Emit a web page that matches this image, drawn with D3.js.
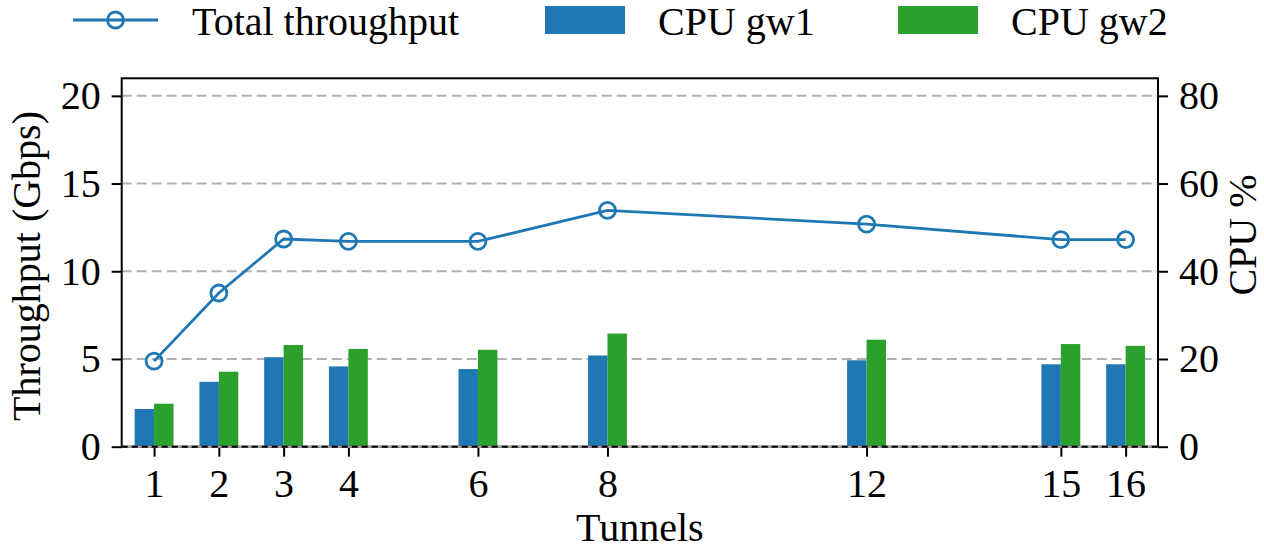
<!DOCTYPE html>
<html>
<head>
<meta charset="utf-8">
<script src="https://cdn.jsdelivr.net/npm/d3@7"></script>
<style>
    body { margin: 0; background: #fff; }
    svg { display: block; font-family: "Liberation Serif", "Times New Roman", serif; }
</style>
</head>
<body>
<div id="chart"></div>
<script>
const TUNNELS = [1, 2, 3, 4, 6, 8, 12, 15, 16];
const THROUGHPUT = [4.88, 8.76, 11.84, 11.7, 11.7, 13.47, 12.69, 11.8, 11.8];
const CPU_GW1 = [8.6, 14.8, 20.4, 18.3, 17.7, 20.8, 19.7, 18.8, 18.8];
const CPU_GW2 = [9.8, 17.1, 23.2, 22.3, 22.1, 25.8, 24.4, 23.4, 23.0];
const LEFT_TICKS = [0, 5, 10, 15, 20];
const RIGHT_TICKS = [0, 20, 40, 60, 80];

const BLUE = "#1f77b4";
const GREEN = "#2ca02c";
const FONT_SIZE = 40;

const width = 1264;
const height = 546;
const margin = { top: 78.3, right: 106, bottom: 99.3, left: 121.7 };
const plotWidth = width - margin.left - margin.right;
const plotHeight = height - margin.top - margin.bottom;

const svg = d3.select("#chart").append("svg")
    .attr("width", width)
    .attr("height", height);

const nullpoint = svg.append("g")
    .attr("transform", `translate(${margin.left}, ${margin.top})`);

const xScale = d3.scaleLinear()
    .domain([0.5, 16.5])
    .range([0, plotWidth]);

const yLeft = d3.scaleLinear()
    .domain([0, 21])
    .range([plotHeight, 0]);

const yRight = d3.scaleLinear()
    .domain([0, 84])
    .range([plotHeight, 0]);

const barWidth = xScale(0.3) - xScale(0);

// grid
nullpoint.selectAll(".grid")
    .data(LEFT_TICKS.filter(d => d > 0))
    .enter()
    .append("line")
    .attr("class", "grid")
    .attr("x1", 0)
    .attr("x2", plotWidth)
    .attr("y1", d => yLeft(d))
    .attr("y2", d => yLeft(d))
    .attr("stroke", "#b0b0b0")
    .attr("stroke-width", 2)
    .attr("stroke-dasharray", "10,5");

// bars
const rows = TUNNELS.map((t, i) => ({ t: t, gw1: CPU_GW1[i], gw2: CPU_GW2[i], tp: THROUGHPUT[i] }));

nullpoint.selectAll(".bar-gw1")
    .data(rows)
    .enter()
    .append("rect")
    .attr("class", "bar-gw1")
    .attr("x", d => xScale(d.t) - barWidth)
    .attr("y", d => yRight(d.gw1))
    .attr("width", barWidth)
    .attr("height", d => plotHeight - yRight(d.gw1))
    .attr("fill", BLUE);

nullpoint.selectAll(".bar-gw2")
    .data(rows)
    .enter()
    .append("rect")
    .attr("class", "bar-gw2")
    .attr("x", d => xScale(d.t))
    .attr("y", d => yRight(d.gw2))
    .attr("width", barWidth)
    .attr("height", d => plotHeight - yRight(d.gw2))
    .attr("fill", GREEN);

// throughput line
const line = d3.line()
    .x(d => xScale(d.t))
    .y(d => yLeft(d.tp));

nullpoint.append("path")
    .datum(rows)
    .attr("fill", "none")
    .attr("stroke", BLUE)
    .attr("stroke-width", 2.8)
    .attr("d", line);

nullpoint.selectAll(".marker")
    .data(rows)
    .enter()
    .append("circle")
    .attr("class", "marker")
    .attr("cx", d => xScale(d.t))
    .attr("cy", d => yLeft(d.tp))
    .attr("r", 8)
    .attr("fill", "none")
    .attr("stroke", BLUE)
    .attr("stroke-width", 2.8);

// axes
function styleAxis(g) {
    g.select(".domain").remove();
    g.selectAll(".tick line").attr("stroke", "#000").attr("stroke-width", 2);
    g.selectAll(".tick text")
        .attr("fill", "#000")
        .style("font-size", FONT_SIZE + "px")
        .style("font-family", "'Liberation Serif', 'Times New Roman', serif");
}

nullpoint.append("g")
    .attr("transform", `translate(0, ${plotHeight})`)
    .call(d3.axisBottom(xScale).tickValues(TUNNELS).tickSize(10).tickPadding(12))
    .call(styleAxis);

nullpoint.append("g")
    .call(d3.axisLeft(yLeft).tickValues(LEFT_TICKS).tickSize(10).tickPadding(11))
    .call(styleAxis);

nullpoint.append("g")
    .attr("transform", `translate(${plotWidth}, 0)`)
    .call(d3.axisRight(yRight).tickValues(RIGHT_TICKS).tickSize(10).tickPadding(11))
    .call(styleAxis);

// spines
nullpoint.append("rect")
    .attr("x", 0)
    .attr("y", 0)
    .attr("width", plotWidth)
    .attr("height", plotHeight)
    .attr("fill", "none")
    .attr("stroke", "#000")
    .attr("stroke-width", 2);

// dashed zero line over the bottom spine
nullpoint.append("line")
    .attr("x1", 0)
    .attr("x2", plotWidth)
    .attr("y1", plotHeight)
    .attr("y2", plotHeight)
    .attr("stroke", "#aaa")
    .attr("stroke-width", 2);

nullpoint.append("line")
    .attr("x1", 0)
    .attr("x2", plotWidth)
    .attr("y1", plotHeight)
    .attr("y2", plotHeight)
    .attr("stroke", "#000")
    .attr("stroke-width", 2)
    .attr("stroke-dasharray", "6,4");

// axis labels
svg.append("text")
    .attr("x", margin.left + plotWidth / 2)
    .attr("y", 541)
    .attr("text-anchor", "middle")
    .style("font-size", FONT_SIZE + "px")
    .text("Tunnels");

svg.append("text")
    .attr("transform", "translate(40, 266) rotate(-90)")
    .attr("text-anchor", "middle")
    .style("font-size", FONT_SIZE + "px")
    .text("Throughput (Gbps)");

svg.append("text")
    .attr("transform", "translate(1256, 235) rotate(-90)")
    .attr("text-anchor", "middle")
    .style("font-size", FONT_SIZE + "px")
    .text("CPU %");

// legend
const legend = svg.append("g");

legend.append("line")
    .attr("x1", 73).attr("x2", 158)
    .attr("y1", 20).attr("y2", 20)
    .attr("stroke", BLUE)
    .attr("stroke-width", 2.8);

legend.append("circle")
    .attr("cx", 115.5).attr("cy", 20)
    .attr("r", 8)
    .attr("fill", "none")
    .attr("stroke", BLUE)
    .attr("stroke-width", 2.8);

legend.append("text")
    .attr("x", 192).attr("y", 35)
    .style("font-size", FONT_SIZE + "px")
    .text("Total throughput");

const patches = [
    { label: "CPU gw1", color: BLUE, x: 545 },
    { label: "CPU gw2", color: GREEN, x: 898 }
];

patches.forEach(p => {
    legend.append("rect")
        .attr("x", p.x).attr("y", 6)
        .attr("width", 80).attr("height", 28)
        .attr("fill", p.color);
    legend.append("text")
        .attr("x", p.x + 113).attr("y", 35)
        .style("font-size", FONT_SIZE + "px")
        .text(p.label);
});
</script>
</body>
</html>
